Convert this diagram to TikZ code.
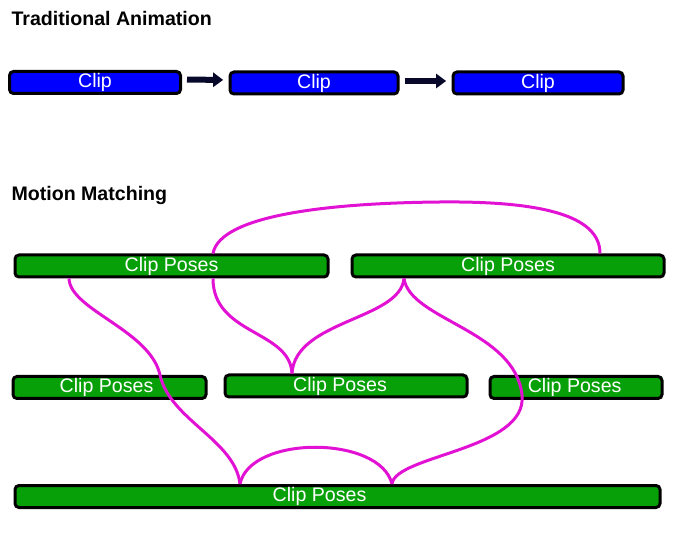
\documentclass[tikz,border=0pt]{standalone}
\usepackage{fontspec}
\setmainfont{Liberation Sans}
\usetikzlibrary{arrows.meta}

\definecolor{clipblue}{RGB}{0,0,255}
\definecolor{posegreen}{RGB}{8,160,8}
\definecolor{linkmagenta}{RGB}{226,18,212}
\definecolor{arrownavy}{RGB}{8,8,42}

\tikzset{every picture/.style={line width=0.75pt}}
\tikzset{
  clipbar/.style={draw=black, line width=2.25pt, rounded corners=3pt, fill=clipblue, text=white,
    font=\fontsize{14.7}{17}\selectfont, inner sep=0pt, minimum height=16.5pt},
  posebar/.style={clipbar, fill=posegreen},
  linkline/.style={draw=linkmagenta, line width=2.25pt},
  nextarrow/.style={draw=arrownavy, line width=4.5pt, -{Triangle[length=7.5pt,width=10.5pt]},
    shorten <=3.75pt, shorten >=4pt},
  heading/.style={anchor=base west, inner sep=0pt, font=\fontsize{14.7}{17}\selectfont\bfseries}
}

\begin{document}
\begin{tikzpicture}[x=0.75pt,y=0.75pt,yscale=-1,xscale=1]
\useasboundingbox (0,0) rectangle (689,534);

% Headings
\node[heading] (tradtitle) at (11,26) {Traditional Animation};
\node[heading] (mmtitle) at (11,201) {Motion Matching};

% Clips
\node[clipbar, minimum width=128.25pt] (clipA) at (95,82.5) {Clip};
\node[clipbar, minimum width=126pt] (clipB) at (314,83) {Clip};
\node[clipbar, minimum width=127.5pt] (clipC) at (538,83) {Clip};

% Arrows
\draw[nextarrow] ([yshift=-2.25pt]clipA.east) -- ([yshift=-2.25pt]clipB.west);
\draw[nextarrow] ([yshift=-1.5pt]clipB.east) -- ([yshift=-1.5pt]clipC.west);

% Pose bars
\node[posebar, minimum width=234.75pt] (poseA) at (171.5,266) {Clip Poses};
\node[posebar, minimum width=234pt] (poseB) at (508,266) {Clip Poses};
\node[posebar, minimum width=144.75pt] (poseC) at (109.5,387.5) {\hspace*{-4.5pt}Clip Poses};
\node[posebar, minimum width=181.5pt] (poseD) at (346,386) {\hspace*{-9pt}Clip Poses};
\node[posebar, minimum width=129pt] (poseE) at (576,387.5) {\hspace*{-2pt}Clip Poses};
\node[posebar, minimum width=483.75pt] (poseF) at (337.5,496.5) {\hspace*{-27pt}Clip Poses};

% Transitions
\draw[linkline] (poseA.north -| 213,0) .. controls (220,215) and (330,203) .. (440,202)
  .. controls (540,201) and (600,215) .. (poseB.north -| 600,0);
\draw[linkline] (poseA.south -| 69,0) .. controls (70,310) and (150,330) .. (160,375)
  .. controls (170,420) and (235,440) .. (poseF.north -| 240,0);
\draw[linkline] (poseA.south -| 213,0) .. controls (213,335) and (290,330) .. (poseD.north -| 292,0);
\draw[linkline] (poseB.south -| 404,0) .. controls (400,320) and (295,320) .. (poseD.north -| 292,0);
\draw[linkline] (poseB.south -| 404,0) .. controls (410,320) and (515,330) .. (522,395)
  .. controls (528,450) and (395,455) .. (poseF.north -| 392,0);
\draw[linkline] (poseF.north -| 240,0) .. controls (250,435) and (380,435) .. (poseF.north -| 392,0);

\end{tikzpicture}
\end{document}
